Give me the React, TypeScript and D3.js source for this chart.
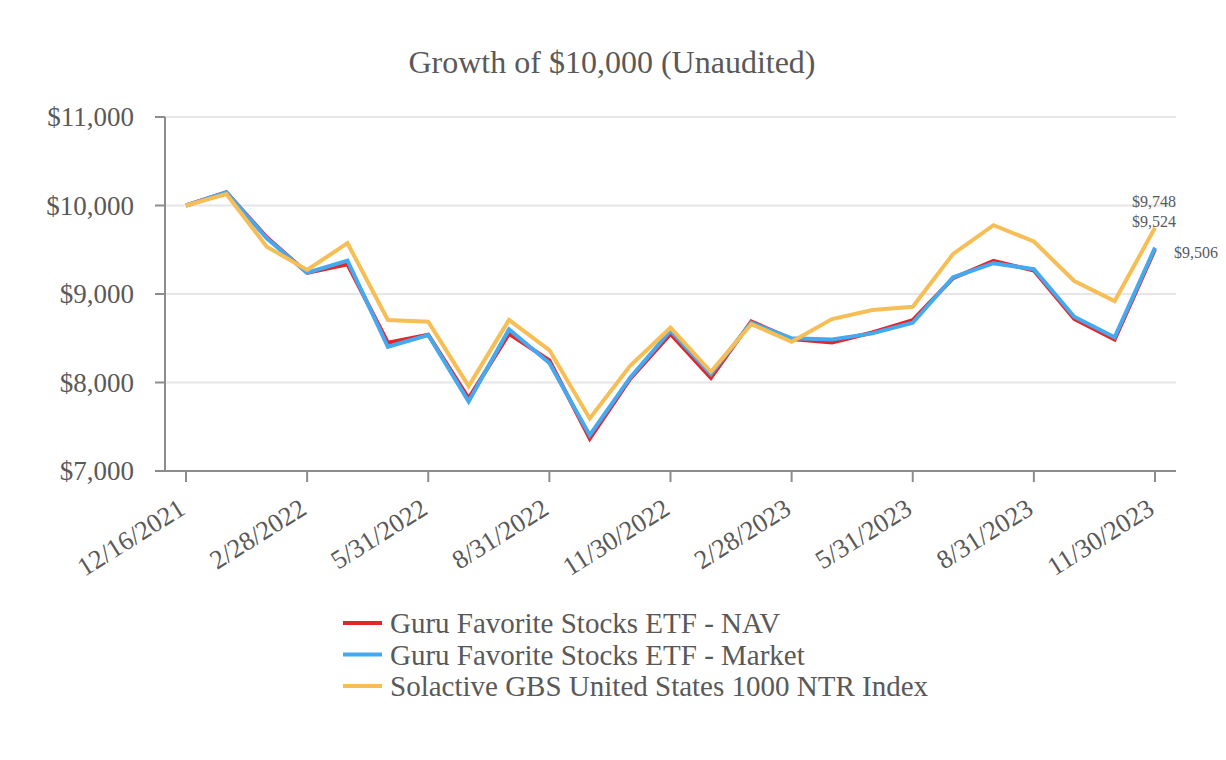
import * as d3 from 'd3';

const dates = [
  '12/16/2021', '12/31/2021', '1/31/2022', '2/28/2022', '3/31/2022', '4/30/2022',
  '5/31/2022', '6/30/2022', '7/31/2022', '8/31/2022', '9/30/2022', '10/31/2022',
  '11/30/2022', '12/31/2022', '1/31/2023', '2/28/2023', '3/31/2023', '4/30/2023',
  '5/31/2023', '6/30/2023', '7/31/2023', '8/31/2023', '9/30/2023', '10/31/2023',
  '11/30/2023'
];

const navValues = [
  10000, 10150, 9640, 9240, 9336, 8449, 8540, 7820, 8550, 8250, 7367, 8040,
  8548, 8053, 8690, 8490, 8453, 8565, 8705, 9180, 9374, 9265, 8720, 8487, 9506
];
const marketValues = [
  10000, 10150, 9630, 9241, 9377, 8404, 8536, 7785, 8600, 8220, 7404, 8055,
  8585, 8095, 8675, 8499, 8487, 8555, 8675, 9189, 9348, 9280, 8743, 8510, 9524
];
const indexValues = [
  10000, 10130, 9535, 9272, 9574, 8706, 8687, 7959, 8706, 8367, 7593, 8188,
  8619, 8121, 8660, 8460, 8717, 8819, 8856, 9453, 9778, 9593, 9147, 8921, 9748
];

const yTicks = [7000, 8000, 9000, 10000, 11000];
const xTickEvery = 3;

const series = [
  { name: 'Guru Favorite Stocks ETF - NAV', values: navValues, color: '#E2262C' },
  { name: 'Guru Favorite Stocks ETF - Market', values: marketValues, color: '#45A9F0' },
  { name: 'Solactive GBS United States 1000 NTR Index', values: indexValues, color: '#F6BE55' }
];

export default function App() {
  const width = 1226;
  const height = 760;
  const left = 165;
  const right = 1176;
  const top = 117;
  const bottom = 471;
  const textColor = '#595959';
  const font = 'Liberation Serif';

  const x = d3.scalePoint<number>().domain(d3.range(dates.length)).range([left, right]).padding(0.52);
  const y = d3.scaleLinear().domain([7000, 11000]).range([bottom, top]);
  const money = (v: number) => '$' + d3.format(',')(v);

  const line = d3
    .line<number>()
    .x((_, i) => x(i) as number)
    .y((d) => y(d));

  const lastX = x(dates.length - 1) as number;

  return (
    <svg
      width={width}
      height={height}
      fontFamily={font}
      style={{ position: 'absolute', left: 0, top: 0, background: '#fff' }}
    >
      <text x={612} y={73} textAnchor="middle" fontSize={32} fill={textColor}>
        Growth of $10,000 (Unaudited)
      </text>

      {/* grid */}
      {yTicks.slice(1).map((t) => (
        <line key={t} x1={left} x2={right} y1={y(t)} y2={y(t)} stroke="#e6e6e6" strokeWidth={2} />
      ))}

      {/* y axis */}
      <line x1={left} x2={left} y1={top} y2={bottom} stroke="#8c8c8c" strokeWidth={2} />
      {yTicks.map((t) => (
        <g key={t}>
          <line x1={155} x2={left} y1={y(t)} y2={y(t)} stroke="#8c8c8c" strokeWidth={2} />
          <text x={134} y={y(t)} textAnchor="end" dominantBaseline="central" fontSize={27} fill={textColor}>
            {money(t)}
          </text>
        </g>
      ))}

      {/* x axis */}
      <line x1={155} x2={right} y1={bottom} y2={bottom} stroke="#8c8c8c" strokeWidth={2} />
      {dates.map((d, i) =>
        i % xTickEvery === 0 ? (
          <g key={d}>
            <line x1={x(i)} x2={x(i)} y1={bottom} y2={bottom + 11} stroke="#8c8c8c" strokeWidth={2} />
            <text
              transform={`translate(${(x(i) as number) + 1},${bottom + 42}) rotate(-32)`}
              textAnchor="end"
              fontSize={26.5}
              fill={textColor}
            >
              {d}
            </text>
          </g>
        ) : null
      )}

      {/* lines */}
      {series.map((s) => (
        <path
          key={s.name}
          d={line(s.values) || ''}
          fill="none"
          stroke={s.color}
          strokeWidth={4}
          strokeLinejoin="miter"
        />
      ))}

      {/* end labels */}
      <text x={lastX - 1} y={207} textAnchor="middle" fontSize={16} fill={textColor}>
        {money(indexValues[indexValues.length - 1])}
      </text>
      <text x={lastX - 1} y={227} textAnchor="middle" fontSize={16} fill={textColor}>
        {money(marketValues[marketValues.length - 1])}
      </text>
      <text x={lastX + 19} y={258} textAnchor="start" fontSize={16} fill={textColor}>
        {money(navValues[navValues.length - 1])}
      </text>

      {/* legend */}
      {series.map((s, i) => (
        <g key={s.name} transform={`translate(343,${623 + i * 31.5})`}>
          <line x1={0} x2={39} y1={0} y2={0} stroke={s.color} strokeWidth={4} />
          <text x={47} y={0} dominantBaseline="central" fontSize={29} fill={textColor}>
            {s.name}
          </text>
        </g>
      ))}
    </svg>
  );
}
